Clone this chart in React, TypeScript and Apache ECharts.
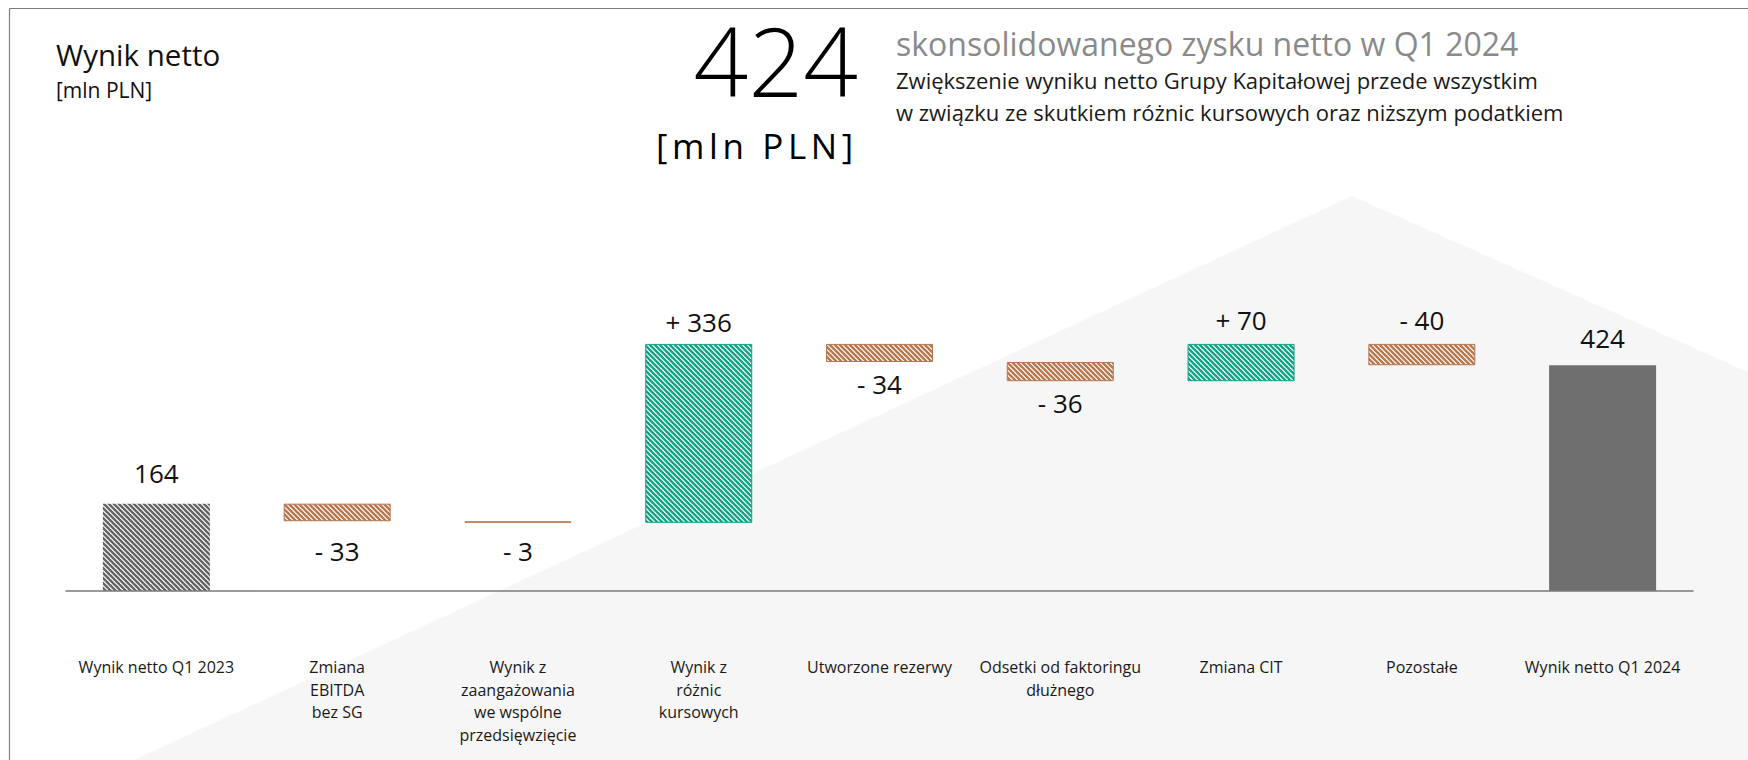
import React, { useEffect, useRef } from 'react';
import * as echarts from 'echarts';

// ---------- data ----------
const categories = [
  'Wynik netto Q1 2023',
  'Zmiana\nEBITDA\nbez SG',
  'Wynik z\nzaangażowania\nwe wspólne\nprzedsięwzięcie',
  'Wynik z\nróżnic\nkursowych',
  'Utworzone rezerwy',
  'Odsetki od faktoringu\ndłużnego',
  'Zmiana CIT',
  'Pozostałe',
  'Wynik netto Q1 2024',
];
const values = [164, -33, -3, 336, -34, -36, 70, -40, 424];
const isTotal = [true, false, false, false, false, false, false, false, true];

const titleText = 'Wynik netto';
const unitText = '[mln PLN]';
const headlineValue = '424';
const headlineUnit = '[mln PLN]';
const headlineTitle = 'skonsolidowanego zysku netto w Q1 2024';
const headlineLines = [
  'Zwiększenie wyniku netto Grupy Kapitałowej przede wszystkim',
  'w związku ze skutkiem różnic kursowych oraz niższym podatkiem',
];

// ---------- label layout (style) ----------
const labelSide = ['top', 'bottom', 'bottom', 'top', 'bottom', 'bottom', 'top', 'top', 'top'];
const labelGap = [18, 17, 15, 9, 9, 9, 11, 11, 14];

const FONT = "'Open Sans', 'Noto Sans', sans-serif";
const GRAY = '#646464';
const BROWN = '#b7774f';
const GREEN = '#13a386';
const TOTAL = '#6f6f6f';

function hatch(color: string, period = 5, lw = 2.4) {
  const size = period * 2;
  const c = document.createElement('canvas');
  c.width = size;
  c.height = size;
  const ctx = c.getContext('2d')!;
  ctx.fillStyle = '#ffffff';
  ctx.fillRect(0, 0, size, size);
  ctx.strokeStyle = color;
  ctx.lineWidth = lw;
  for (let k = -3; k <= 3; k++) {
    ctx.beginPath();
    ctx.moveTo(k * period - 2, -2);
    ctx.lineTo(k * period + size + 2, size + 2);
    ctx.stroke();
  }
  return { image: c, repeat: 'repeat' } as any;
}

export default function App() {
  const ref = useRef<HTMLDivElement>(null);

  useEffect(() => {
    document.body.style.margin = '0';
    document.body.style.overflow = 'hidden';
    if (!ref.current) return;
    const chart = echarts.init(ref.current, undefined, { renderer: 'svg' });

    const base: number[] = [];
    const height: number[] = [];
    let running = 0;
    values.forEach((v, i) => {
      if (isTotal[i]) {
        base.push(0);
        height.push(v);
        running = v;
      } else {
        const next = running + v;
        base.push(Math.min(running, next));
        height.push(Math.abs(v));
        running = next;
      }
    });

    const grayPat = hatch(GRAY);
    const brownPat = hatch(BROWN);
    const greenPat = hatch(GREEN);

    const valueData = height.map((h, i) => {
      const v = values[i];
      let itemStyle: any;
      if (isTotal[i] && i === 0) itemStyle = { color: grayPat, borderWidth: 0 };
      else if (isTotal[i]) itemStyle = { color: TOTAL, borderWidth: 0 };
      else if (v < 0) itemStyle = { color: brownPat, borderColor: BROWN, borderWidth: 1 };
      else itemStyle = { color: greenPat, borderColor: GREEN, borderWidth: 1 };
      return {
        value: h,
        itemStyle,
        label: { position: labelSide[i], distance: labelGap[i] },
      };
    });

    const option: any = {
      animation: false,
      backgroundColor: '#ffffff',
      grid: { left: 66, right: 55, top: 165, bottom: 169, containLabel: false },
      xAxis: {
        type: 'category',
        data: categories,
        axisLine: { show: true, lineStyle: { color: '#7a7a7a', width: 1.5 } },
        axisTick: { show: false },
        axisLabel: {
          interval: 0,
          margin: 65,
          fontSize: 16,
          lineHeight: 22.5,
          color: '#1a1a1a',
          fontFamily: FONT,
          align: 'center',
        },
        z: 5,
      },
      yAxis: {
        type: 'value',
        min: 0,
        max: 800,
        show: false,
        splitLine: { show: false },
      },
      series: [
        {
          type: 'bar',
          stack: 'w',
          data: base,
          barWidth: 107,
          itemStyle: { color: 'transparent' },
          silent: true,
          emphasis: { disabled: true },
          label: { show: false },
        },
        {
          type: 'bar',
          stack: 'w',
          data: valueData,
          barWidth: 107,
          emphasis: { disabled: true },
          label: {
            show: true,
            fontSize: 26,
            color: '#111111',
            fontFamily: FONT,
            formatter: (p: any) => {
              const v = values[p.dataIndex];
              if (isTotal[p.dataIndex]) return String(v);
              return v > 0 ? '+ ' + v : '- ' + Math.abs(v);
            },
          },
        },
      ],
      graphic: [
        {
          type: 'polygon',
          z: -10,
          silent: true,
          shape: { points: [[134, 760], [1352, 196], [1748, 372], [1748, 760]] },
          style: { fill: '#f6f6f6' },
        },
        {
          type: 'line',
          z: 50,
          silent: true,
          shape: { x1: 9.5, y1: 8.5, x2: 1760, y2: 8.5 },
          style: { stroke: '#7d7d7d', lineWidth: 1.2 },
        },
        {
          type: 'line',
          z: 50,
          silent: true,
          shape: { x1: 9.5, y1: 8.5, x2: 9.5, y2: 770 },
          style: { stroke: '#7d7d7d', lineWidth: 1.2 },
        },
        {
          type: 'text',
          z: 50,
          x: 56,
          y: 54,
          style: { text: titleText, font: `29.5px ${FONT}`, fill: '#111111', verticalAlign: 'middle', align: 'left' },
        },
        {
          type: 'text',
          z: 50,
          x: 56,
          y: 90,
          style: { text: unitText, font: `21px ${FONT}`, fill: '#111111', verticalAlign: 'middle', align: 'left' },
        },
        {
          type: 'text',
          z: 50,
          x: 858,
          y: 59,
          style: { text: headlineValue, font: `300 96px ${FONT}`, fill: '#000000', verticalAlign: 'middle', align: 'right' },
        },
        {
          type: 'text',
          z: 50,
          x: 656,
          y: 145,
          style: { text: headlineUnit, font: `35px ${FONT}`, fill: '#000000', verticalAlign: 'middle', align: 'left' },
        },
        {
          type: 'text',
          z: 50,
          x: 896,
          y: 43,
          style: { text: headlineTitle, font: `32px ${FONT}`, fill: '#8a8a8a', verticalAlign: 'middle', align: 'left' },
        },
        {
          type: 'text',
          z: 50,
          x: 896,
          y: 80,
          style: { text: headlineLines[0], font: `22px ${FONT}`, fill: '#1a1a1a', verticalAlign: 'middle', align: 'left' },
        },
        {
          type: 'text',
          z: 50,
          x: 896,
          y: 112,
          style: { text: headlineLines[1], font: `22px ${FONT}`, fill: '#1a1a1a', verticalAlign: 'middle', align: 'left' },
        },
      ],
    };

    chart.setOption(option);
    return () => chart.dispose();
  }, []);

  return (
    <>
      <style>{'#root svg text[style*="35px"]{letter-spacing:4.6px}'}</style>
      <div ref={ref} style={{ width: 1748, height: 760 }} />
    </>
  );
}
